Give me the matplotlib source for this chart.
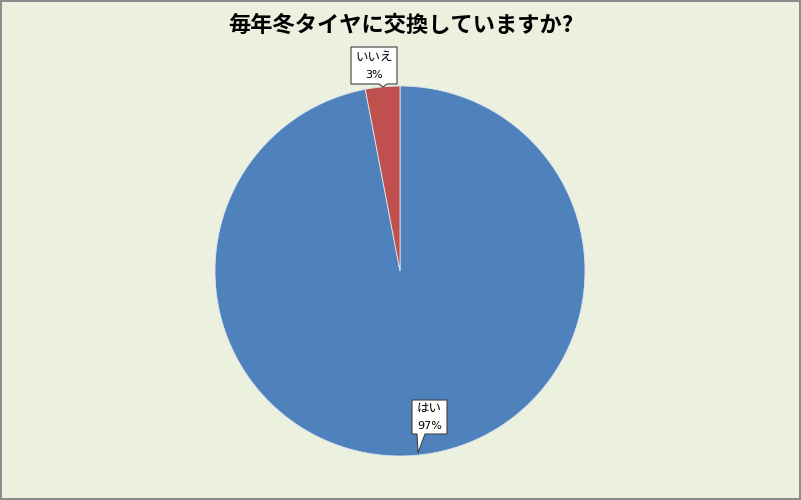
import matplotlib
matplotlib.use('Agg')
from matplotlib import pyplot as plt
from matplotlib.patches import Polygon
import numpy as np

plt.rcParams['font.family'] = ['Noto Sans CJK JP', 'DejaVu Sans']

title = '毎年冬タイヤに交換していますか?'
labels = ['はい', 'いいえ']
values = [97, 3]
colors = ['#4F81BD', '#C0504D']

fig = plt.figure(figsize=(8.01, 5.0), dpi=100)
fig.patch.set_facecolor('#EBF1DE')
fig.patch.set_edgecolor('#8C8C8C')
fig.patch.set_linewidth(1.5)

# pie centre at (400, 271) px, radius 185 px
r_px = 185
ax = fig.add_axes([(400 - r_px) / 801, (500 - 271 - r_px) / 500, 2 * r_px / 801, 2 * r_px / 500])
ax.pie(values, colors=colors, startangle=90, counterclock=False, radius=1,
       wedgeprops=dict(edgecolor='#DCE4EE', linewidth=0.6))
ax.set_xlim(-1, 1)
ax.set_ylim(-1, 1)
ax.set_aspect('equal')
ax.axis('off')

fig.text(0.5, 1 - 25 / 500, title, ha='center', va='center', fontsize=16, fontweight='bold')


def px(x, y):
    return ((x - 400) / r_px, (271 - y) / r_px)


# callout boxes (in pixel layout): box x0, x1, y_top, y_bottom, pointer base x0, x1, tip
callouts = [
    dict(box=(412, 447, 400, 434), base=(417, 425), tip=(418, 453)),
    dict(box=(351, 397, 47, 84), base=(379, 387), tip=(383, 87)),
]

for lab, val, c in zip(labels, values, callouts):
    x0, x1, yt, yb = c['box']
    b0, b1 = c['base']
    tx, ty = c['tip']
    pts = [px(x0, yt), px(x1, yt), px(x1, yb), px(b1, yb), px(tx, ty), px(b0, yb), px(x0, yb)]
    ax.add_patch(Polygon(pts, closed=True, facecolor='white', edgecolor='#404040',
                         linewidth=0.8, zorder=5, clip_on=False))
    cx, cy = px((x0 + x1) / 2, (yt + yb) / 2)
    ax.text(cx, cy + 0.045, lab, ha='center', va='center', fontsize=9, zorder=6, clip_on=False)
    ax.text(cx, cy - 0.05, f'{val}%', ha='center', va='center', fontsize=8,
            family=['DejaVu Sans'], zorder=6, clip_on=False)

fig.savefig('out.png', dpi=100, facecolor=fig.get_facecolor(), edgecolor=fig.get_edgecolor())
